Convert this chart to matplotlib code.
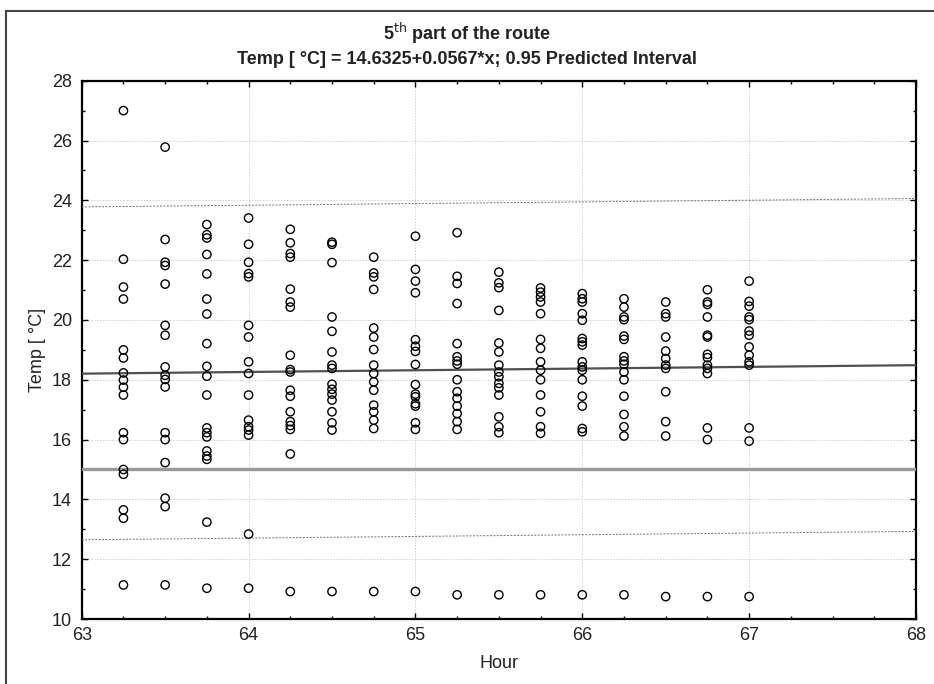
import matplotlib
matplotlib.use("Agg")
import matplotlib.pyplot as plt
from matplotlib.lines import Line2D
from matplotlib.ticker import MultipleLocator

plt.rcParams['font.family'] = ['Liberation Sans', 'DejaVu Sans']

hours = [63.25, 63.5, 63.75, 64.0, 64.25, 64.5, 64.75, 65.0,
         65.25, 65.5, 65.75, 66.0, 66.25, 66.5, 66.75, 67.0]

t_6325 = [27.0, 22.03, 21.1, 20.7, 19.0, 18.73, 18.23, 17.99, 17.75, 17.49, 16.23, 16.0, 15.0, 14.84, 13.65, 13.37, 11.14]
t_6350 = [25.78, 22.69, 21.93, 21.82, 21.2, 19.82, 19.49, 18.43, 18.15, 18.01, 17.76, 16.23, 16.0, 15.23, 14.04, 13.76, 11.14]
t_6375 = [23.19, 22.85, 22.74, 22.19, 21.54, 20.7, 20.2, 19.21, 18.45, 18.12, 17.49, 16.39, 16.23, 16.09, 15.62, 15.45, 15.34, 13.24, 11.03]
t_6400 = [23.41, 22.53, 21.93, 21.55, 21.44, 19.82, 19.43, 18.6, 18.21, 17.49, 16.65, 16.43, 16.32, 16.15, 12.84, 11.03]
t_6425 = [23.03, 22.58, 22.22, 22.1, 21.03, 20.6, 20.43, 18.82, 18.34, 18.26, 17.65, 17.45, 16.93, 16.6, 16.47, 16.34, 15.52, 10.92]
t_6450 = [22.6, 22.53, 21.92, 20.1, 19.62, 18.93, 18.49, 18.38, 17.85, 17.68, 17.52, 17.32, 16.93, 16.56, 16.32, 10.92]
t_6475 = [22.1, 21.57, 21.44, 21.02, 19.73, 19.43, 19.01, 18.49, 18.21, 17.93, 17.65, 17.15, 16.93, 16.65, 16.37, 10.92]
t_6500 = [22.8, 21.69, 21.3, 20.91, 19.34, 19.12, 18.95, 18.51, 17.84, 17.52, 17.43, 17.2, 17.12, 16.56, 16.34, 10.92]
t_6525 = [22.92, 21.46, 21.22, 20.55, 19.21, 18.77, 18.63, 18.52, 18.0, 17.6, 17.38, 17.12, 16.87, 16.6, 16.34, 10.81]
t_6550 = [21.6, 21.24, 21.08, 20.32, 19.23, 18.93, 18.49, 18.26, 18.1, 17.88, 17.73, 17.49, 16.76, 16.43, 16.23, 10.81]
t_6575 = [21.07, 20.93, 20.77, 20.6, 20.21, 19.35, 19.05, 18.6, 18.32, 18.0, 17.49, 16.93, 16.43, 16.21, 10.81]
t_6600 = [20.88, 20.71, 20.6, 20.21, 19.99, 19.38, 19.27, 19.16, 18.6, 18.43, 18.32, 18.0, 17.45, 17.12, 16.37, 16.26, 10.81]
t_6625 = [20.71, 20.43, 20.1, 20.01, 19.46, 19.35, 18.77, 18.63, 18.52, 18.26, 18.0, 17.45, 16.84, 16.43, 16.12, 10.81]
t_6650 = [20.6, 20.21, 20.1, 19.43, 18.96, 18.71, 18.49, 18.38, 17.6, 16.6, 16.12, 10.75]
t_6675 = [21.01, 20.6, 20.52, 20.1, 19.49, 19.43, 18.85, 18.74, 18.49, 18.38, 18.21, 16.39, 16.0, 10.75]
t_6700 = [21.3, 20.62, 20.46, 20.1, 20.01, 19.63, 19.49, 19.1, 18.82, 18.6, 18.49, 16.39, 15.95, 10.75]

temps = [t_6325, t_6350, t_6375, t_6400, t_6425, t_6450, t_6475, t_6500,
         t_6525, t_6550, t_6575, t_6600, t_6625, t_6650, t_6675, t_6700]

# regression & prediction interval (endpoints at x = 63 and 68)
line_x = [63.0, 68.0]
intercept = 14.6325
slope = 0.0567
upper_pi = [23.78, 24.06]
lower_pi = [12.65, 12.93]
ref_level = 15.0

fig = plt.figure(figsize=(9.34, 6.84), dpi=100)
ax = fig.add_axes([0.0875, 0.095, 0.8932, 0.787])

xs, ys = [], []
for h, col in zip(hours, temps):
    xs += [h] * len(col)
    ys += col
ax.scatter(xs, ys, s=36, facecolors='none', edgecolors='black', linewidths=1.0, zorder=4)

fit_y = [intercept + slope * x for x in line_x]
ax.plot(line_x, fit_y, color='#505050', lw=1.6, zorder=3)
ax.plot(line_x, upper_pi, color='#707070', lw=0.7, ls=(0, (2, 1.5)), zorder=3)
ax.plot(line_x, lower_pi, color='#707070', lw=0.7, ls=(0, (2, 1.5)), zorder=3)
ax.axhline(ref_level, color='#999999', lw=2.4, zorder=3)

ax.set_xlim(63, 68)
ax.set_ylim(10, 28)
ax.xaxis.set_major_locator(MultipleLocator(1))
ax.xaxis.set_minor_locator(MultipleLocator(0.25))
ax.yaxis.set_major_locator(MultipleLocator(2))
ax.yaxis.set_minor_locator(MultipleLocator(1))
ax.tick_params(which='both', direction='in', top=True, right=True, labelsize=13, colors='black', labelcolor='#222222')
ax.tick_params(which='major', length=4, width=1)
ax.tick_params(which='minor', length=2.5, width=1)
ax.tick_params(axis='x', pad=6)
ax.tick_params(axis='y', pad=7)
ax.grid(True, which='major', color='#d0d0d0', lw=0.7, ls=(0, (1.5, 1.5)), zorder=0)
for sp in ax.spines.values():
    sp.set_linewidth(1.6)
    sp.set_color('black')

ax.set_xlabel('Hour', fontsize=13, color='#222222', labelpad=8)
ax.set_ylabel('Temp [ °C]', fontsize=13, color='#222222', labelpad=4)

fig.text(0.5, 1 - 33 / 684, r'5$^{\mathrm{th}}$ part of the route', ha='center', va='center',
         fontsize=13, fontweight='bold', color='#222222')
fig.text(0.5, 1 - 59 / 684, 'Temp [ °C] = 14.6325+0.0567*x; 0.95 Predicted Interval', ha='center', va='center',
         fontsize=13, fontweight='bold', color='#222222')

# figure frame (top and left edges)
fig.add_artist(Line2D([6 / 934, 6 / 934], [0, 1 - 11 / 684], transform=fig.transFigure, color='#444444', lw=1.5))
fig.add_artist(Line2D([6 / 934, 1], [1 - 11 / 684, 1 - 11 / 684], transform=fig.transFigure, color='#444444', lw=1.5))

fig.savefig('out.png', dpi=100)
